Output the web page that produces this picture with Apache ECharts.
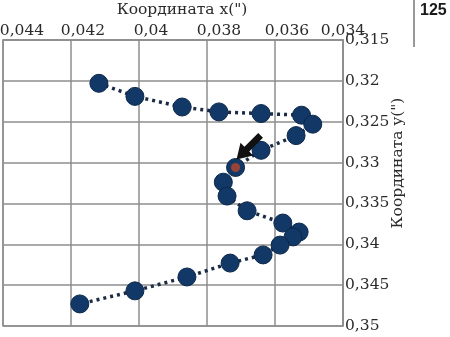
<!DOCTYPE html>
<html>
<head>
<meta charset="utf-8">
<script src="https://cdn.jsdelivr.net/npm/echarts@6/dist/echarts.min.js"></script>
<style>
  html, body { margin: 0; padding: 0; background: #fff; }
  #chart { width: 450px; height: 337px; }
</style>
</head>
<body>
<div id="chart"></div>
<script>
// path of the point (x and y in arc seconds)
const xValues = [0.04118, 0.04012, 0.03873, 0.03765, 0.03641, 0.03522, 0.03489, 0.03538,
  0.03641, 0.03716, 0.03752, 0.03741, 0.03682, 0.03577, 0.03529, 0.03547,
  0.03585, 0.03635, 0.03732, 0.03859, 0.04012, 0.04174];
const yValues = [0.3203, 0.3219, 0.3232, 0.3238, 0.3240, 0.3242, 0.3253, 0.3267,
  0.3285, 0.3306, 0.3324, 0.3341, 0.3359, 0.3374, 0.3385, 0.3391,
  0.3401, 0.3413, 0.3423, 0.3440, 0.3457, 0.3473];
const markedIndex = 9; // the point with the red centre and the arrow
const xTitle = 'Координата x(")';
const yTitle = 'Координата y(")';
const pageNumber = '125';

const points = xValues.map((x, i) => [x, yValues[i]]);
const comma = v => String(+v.toFixed(4)).replace('.', ',');
const labelFont = { fontFamily: 'DejaVu Serif', fontSize: 15.5, color: '#2b2b2b' };
const gridColor = '#8e8e8e';

// x labels sit a little right of their tick, the end ones differently
const xLabel = v => {
  const t = comma(v);
  if (v >= 0.0439) return '{e|' + t + '}';
  if (v <= 0.0341) return '{s|' + t + '}';
  return '{a|' + t + '}';
};

const chart = echarts.init(document.getElementById('chart'));
chart.setOption({
  animation: false,
  grid: {
    left: 3, right: 107, top: 40, bottom: 11,
    outerBoundsMode: 'none',
    show: true, borderColor: gridColor, borderWidth: 1.5
  },
  xAxis: {
    type: 'value',
    position: 'top',
    inverse: true,
    min: 0.034, max: 0.044, interval: 0.002,
    name: xTitle,
    nameLocation: 'middle',
    nameGap: 22,
    nameMoveOverlap: false,
    nameTextStyle: { ...labelFont, padding: [0, 0, 0, 18] },
    axisLine: { lineStyle: { color: gridColor, width: 1.5 } },
    axisTick: { show: false },
    axisLabel: {
      ...labelFont, margin: 1, formatter: xLabel,
      rich: {
        a: { ...labelFont, padding: [0, 0, 0, 24] },
        e: { ...labelFont, padding: [0, 0, 0, 38] },
        s: { ...labelFont }
      }
    },
    splitLine: { lineStyle: { color: gridColor, width: 1.5 } }
  },
  yAxis: {
    type: 'value',
    position: 'right',
    inverse: true,
    min: 0.315, max: 0.35, interval: 0.005,
    name: yTitle,
    nameLocation: 'middle',
    nameRotate: 90,
    nameGap: 47,
    nameMoveOverlap: false,
    nameTextStyle: { ...labelFont, padding: [0, 0, 0, 40] },
    axisLine: { lineStyle: { color: gridColor, width: 1.5 } },
    axisTick: { show: false },
    axisLabel: { ...labelFont, margin: 2, padding: [4, 0, 0, 0], formatter: comma },
    splitLine: { lineStyle: { color: gridColor, width: 1.5 } }
  },
  series: [
    {
      type: 'line',
      data: points,
      symbol: 'circle',
      symbolSize: 18,
      itemStyle: { color: '#123868', borderColor: '#0c2748', borderWidth: 1 },
      lineStyle: { color: '#1b2b45', width: 3.5, type: [3, 4] },
      z: 3
    },
    {
      type: 'scatter',
      data: [points[markedIndex]],
      symbolSize: 9,
      itemStyle: { color: '#b8472a' },
      z: 4,
      markPoint: {
        symbol: 'path://M5,0 L11,0 L11,16 L16,16 L8,28 L0,16 L5,16 Z',
        symbolSize: [18, 34],
        symbolRotate: -45,
        symbolOffset: [13, -20],
        itemStyle: { color: '#111' },
        label: { show: false },
        data: [{ coord: points[markedIndex] }]
      }
    }
  ],
  graphic: [
    { type: 'line', shape: { x1: 414, y1: 0, x2: 414, y2: 47 }, style: { stroke: '#333', lineWidth: 1 } },
    { type: 'text', left: 420, top: 3,
      style: { text: pageNumber, font: 'bold 16px "Liberation Sans"', fill: '#1a1a1a' } }
  ]
});
</script>
</body>
</html>
